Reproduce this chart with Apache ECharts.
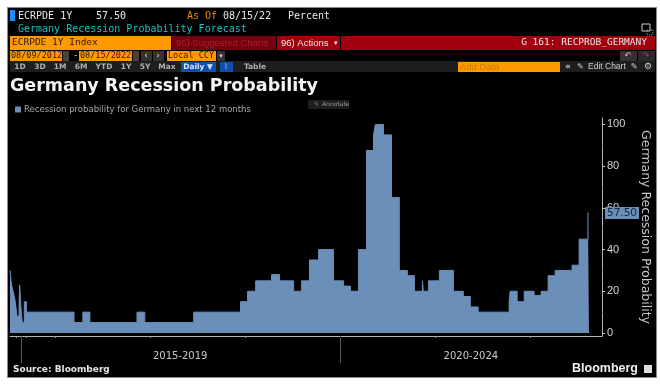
<!DOCTYPE html>
<html>
<head>
<meta charset="utf-8">
<style>
  html, body { margin: 0; padding: 0; background: #fff; }
  #panel { position: absolute; left: 7px; top: 7px; width: 648px; height: 369px; background: #000; border: 1px solid #8a8a8a; }
  #chart { position: absolute; left: 0; top: 0; width: 660px; height: 386px; }
</style>
</head>
<body>
<div id="panel"></div>
<div id="chart"></div>
<script src="https://cdn.jsdelivr.net/npm/echarts@6/dist/echarts.min.js"></script>
<script>
// observation dates where the reading changes, and the reading from that date on
const obsDates = [
  '2016-07-12', '2016-07-16', '2016-07-20', '2016-07-24', '2016-07-28', '2016-08-01', '2016-08-04', '2016-08-08',
  '2016-08-16', '2016-08-18', '2016-08-22', '2016-08-24', '2016-08-28', '2016-09-05', '2016-09-13',
  '2017-03-15', '2017-04-18', '2017-05-15', '2017-11-12', '2017-12-12', '2018-06-18', '2018-12-15',
  '2019-01-11', '2019-02-11', '2019-04-13', '2019-05-14', '2019-07-07', '2019-08-06', '2019-09-06', '2019-10-11', '2019-12-07',
  '2020-01-15', '2020-02-10', '2020-03-12', '2020-04-12', '2020-05-09', '2020-05-16', '2020-06-16', '2020-07-17', '2020-08-16',
  '2020-09-16', '2020-10-13', '2020-11-13', '2020-11-16', '2020-12-06',
  '2021-01-17', '2021-03-12', '2021-04-19', '2021-05-16', '2021-06-15', '2021-10-12', '2021-10-16', '2021-11-12', '2021-12-09',
  '2022-01-16', '2022-02-12', '2022-03-11', '2022-04-07', '2022-06-11', '2022-07-08', '2022-08-11', '2022-08-15'
]
const obsValues = [
  30, 25, 22, 20, 18, 15, 12, 8,
  14, 23, 15, 10, 5, 15, 10,
  5, 10, 5, 10, 5, 10, 15,
  20, 25, 28, 25, 20, 25, 35, 40, 25,
  22.5, 20, 40, 87.5, 95, 100, 95, 65, 30,
  27.5, 20, 25, 20, 25,
  30, 20, 17.5, 12.5, 10, 15, 20, 15, 20,
  18, 20, 27.5, 30, 32.5, 45, 57.5, 57.5
]
const yearTicks = ['2016-08-04', '2016-09-13', '2017-01-01', '2018-01-01', '2019-01-01', '2021-01-01', '2022-01-01']
const periodTicks = ['2016-08-24', '2020-01-01']
const periodCenters = ['2018-04-27', '2021-05-18']
const periodLabels = ['2015-2019', '2020-2024']
const yLabels = [0, 20, 40, 60, 80, 100]
const yMinorTicks = [10, 30, 50, 70, 90]
const seriesName = 'Recession probability for Germany in next 12 months'
const axisName = 'Germany Recession Probability'
const lastValue = '57.50'

const mono = '"DejaVu Sans Mono", monospace'
const sans = '"DejaVu Sans", sans-serif'
const lib = '"Liberation Sans", sans-serif'
const blue = '#6b8fb9'
const orange = '#ff9900'

const ts = (d) => +new Date(d)
const xMin = ts('2016-07-12')
const xMax = ts('2022-10-04')

function box(x, y, width, height, fill) {
  return { type: 'rect', shape: { x, y, width, height }, style: { fill } }
}
function txt(x, y, text, fill, font, align) {
  return {
    type: 'text', x, y,
    style: { text, fill, font: font || '10px ' + mono, textAlign: align || 'left', textVerticalAlign: 'middle' },
  }
}

// Bloomberg terminal header and footer
const chrome = [
  box(10, 10, 5, 11, '#1a8cff'),
  txt(18, 16, 'ECRPDE 1Y', '#e8e8e8'),
  txt(96, 16, '57.50', '#e8e8e8'),
  txt(187, 16, 'As Of', '#f08c00'),
  txt(223, 16, '08/15/22', '#e8e8e8'),
  txt(288, 16, 'Percent', '#e8e8e8'),
  txt(18, 29, 'Germany Recession Probability Forecast', '#12c4c4'),

  box(10, 36, 161, 14, orange),
  txt(12, 43, 'ECRPDE 1Y Index', '#2a1a00', '9.5px ' + mono),
  box(172, 36, 104, 14, '#75000e'),
  txt(176, 43, '96) Suggested Charts', '#a8202c', '9.5px ' + lib),
  box(277, 36, 63, 14, '#a2000f'),
  txt(281, 43, '96) Actions', '#eeeeee', '9.5px ' + lib),
  txt(334, 43, '▾', '#eeeeee', '7px ' + sans),
  box(341, 36, 314, 14, '#a2000f'),
  txt(647, 43, 'G 161: RECPROB_GERMANY', '#e8e8e8', '9.5px ' + mono, 'right'),

  box(10, 51, 52, 10, orange),
  txt(11, 56, '08/09/2012', '#2a1a00', '8.5px ' + mono),
  box(63, 51, 6, 10, '#444'),
  txt(73, 56, '-', '#ddd', '9px ' + mono),
  box(79, 51, 53, 10, orange),
  txt(80, 56, '08/15/2022', '#2a1a00', '8.5px ' + mono),
  box(133, 51, 6, 10, '#444'),
  box(141, 51, 11, 10, '#333'),
  txt(146, 56, '‹', '#ddd', '9px ' + sans, 'center'),
  box(153, 51, 11, 10, '#333'),
  txt(158, 56, '›', '#ddd', '9px ' + sans, 'center'),
  box(167, 51, 49, 10, orange),
  txt(168, 56, 'Local CCY', '#2a1a00', '8.5px ' + mono),
  box(217, 51, 8, 10, '#333'),
  txt(221, 56, '▾', '#ccc', '7px ' + sans, 'center'),
  box(620, 51, 17, 10, '#333'),
  txt(628, 56, '↶', '#ccc', '8px ' + sans, 'center'),
  box(638, 51, 17, 10, '#2a2a2a'),
  txt(646, 56, '↷', '#666', '8px ' + sans, 'center'),

  box(10, 61, 645, 11, '#1e1e1e'),
  txt(20, 67, '1D', '#b0b0b0', 'bold 7.5px ' + sans, 'center'),
  txt(40, 67, '3D', '#b0b0b0', 'bold 7.5px ' + sans, 'center'),
  txt(60, 67, '1M', '#b0b0b0', 'bold 7.5px ' + sans, 'center'),
  txt(81, 67, '6M', '#b0b0b0', 'bold 7.5px ' + sans, 'center'),
  txt(104, 67, 'YTD', '#b0b0b0', 'bold 7.5px ' + sans, 'center'),
  txt(126, 67, '1Y', '#b0b0b0', 'bold 7.5px ' + sans, 'center'),
  txt(145, 67, '5Y', '#b0b0b0', 'bold 7.5px ' + sans, 'center'),
  txt(167, 67, 'Max', '#b0b0b0', 'bold 7.5px ' + sans, 'center'),
  box(181, 62, 35, 10, '#0f4fb0'),
  txt(198, 67, 'Daily ▼', '#d8e4f5', 'bold 7.5px ' + sans, 'center'),
  box(220, 62, 13, 10, '#0f4fb0'),
  txt(226, 67, '⌇', '#9fc0ec', '8px ' + sans, 'center'),
  txt(255, 67, 'Table', '#b0b0b0', 'bold 7.5px ' + sans, 'center'),
  box(458, 62, 102, 10, orange),
  txt(460, 67, 'Add Data', '#c77a00', '9.5px ' + lib),
  txt(568, 67, '«', '#ccc', 'bold 9px ' + sans, 'center'),
  txt(577, 67, '✎', '#ccc', '8px ' + sans),
  txt(588, 67, 'Edit Chart', '#ccc', '8.5px ' + lib),
  txt(634, 67, '✎', '#ccc', '8.5px ' + sans, 'center'),
  txt(648, 67, '⚙', '#ccc', '9px ' + sans, 'center'),

  { type: 'rect', shape: { x: 642, y: 24, width: 8, height: 7 }, style: { fill: 'none', stroke: '#ccc' } },
  { type: 'rect', shape: { x: 647, y: 30, width: 6, height: 5 }, style: { fill: 'none', stroke: '#999', lineDash: [1, 1] } },

  txt(10, 86, 'Germany Recession Probability', '#f4f4f4', 'bold 17.5px ' + sans),

  box(308, 100, 41, 9, '#1e1e1e'),
  txt(322, 104.5, 'Annotate', '#999', '6px ' + sans),
  txt(314, 104.5, '✎', '#777', '6px ' + sans),

  txt(13, 370, 'Source: Bloomberg', '#e4e4e4', 'bold 9px ' + sans),
  txt(638, 369, 'Bloomberg', '#f0f0f0', 'bold 12.5px ' + lib, 'right'),
  box(644, 365, 8, 8, '#ddd'),
]

const myChart = echarts.init(document.getElementById('chart'))

const option = {
  animation: false,
  grid: { left: 10, right: 57, top: 118, bottom: 50 },
  legend: {
    left: 10,
    top: 100,
    itemWidth: 6,
    itemHeight: 6,
    itemGap: 0,
    icon: 'rect',
    textStyle: { color: '#a8a8a8', fontSize: 8.5, fontFamily: sans, padding: [0, 0, 0, -2] },
    data: [seriesName],
  },
  xAxis: [
    {
      type: 'value',
      min: xMin,
      max: xMax,
      axisLine: { show: true, onZero: false, lineStyle: { color: '#b4b4b4', width: 1 } },
      axisTick: { show: true, customValues: yearTicks.map(ts), length: 2, lineStyle: { color: '#999' } },
      splitLine: { show: false },
      axisLabel: {
        customValues: periodCenters.map(ts),
        margin: 15,
        color: '#c8c8c8',
        fontSize: 10,
        fontFamily: sans,
        hideOverlap: false,
        formatter: function (value) {
          const i = periodCenters.findIndex((d) => ts(d) === value)
          return i < 0 ? '' : periodLabels[i]
        },
      },
    },
    {
      // long ticks between the two periods
      type: 'value',
      position: 'bottom',
      min: xMin,
      max: xMax,
      axisLine: { show: false, onZero: false },
      axisLabel: { show: false },
      splitLine: { show: false },
      axisTick: { show: true, customValues: periodTicks.map(ts), length: 27, lineStyle: { color: '#555' } },
    },
  ],
  yAxis: [
    {
      type: 'value',
      position: 'right',
      min: -1.44,
      max: 103.1,
      name: axisName,
      nameLocation: 'middle',
      nameRotate: -90,
      nameGap: 37,
      nameTextStyle: { color: '#c8c8c8', fontSize: 12.5, fontFamily: sans },
      axisLine: { show: true, onZero: false, lineStyle: { color: '#b4b4b4', width: 1 } },
      axisTick: { show: true, customValues: yLabels, length: 3, lineStyle: { color: '#c0c0c0' } },
      splitLine: { show: false },
      axisLabel: {
        customValues: yLabels,
        margin: 5,
        color: '#d4d4d4',
        fontSize: 11,
        fontFamily: lib,
      },
    },
    {
      type: 'value',
      position: 'right',
      min: -1.44,
      max: 103.1,
      axisLine: { show: false, onZero: false },
      axisLabel: { show: false },
      splitLine: { show: false },
      axisTick: { show: true, customValues: yMinorTicks, length: 1, lineStyle: { color: '#777' } },
    },
  ],
  series: [
    {
      name: seriesName,
      type: 'line',
      step: 'end',
      showSymbol: false,
      clip: false,
      itemStyle: { color: blue },
      lineStyle: { color: blue, width: 1 },
      areaStyle: { color: blue, opacity: 1 },
      data: obsDates.map((d, i) => [ts(d), obsValues[i]]),
      endLabel: {
        show: true,
        formatter: lastValue,
        distance: 16,
        color: '#14263f',
        fontSize: 10.5,
        fontFamily: sans,
        backgroundColor: blue,
        padding: [1, 2, 0, 2],
      },
      markPoint: {
        silent: true,
        symbol: 'triangle',
        symbolSize: [12, 5],
        symbolRotate: 90,
        itemStyle: { color: blue },
        label: { show: false },
        data: [{ coord: [ts('2022-10-08'), 57.5] }],
      },
    },
  ],
  graphic: { elements: chrome },
}

option && myChart.setOption(option)
</script>
</body>
</html>
